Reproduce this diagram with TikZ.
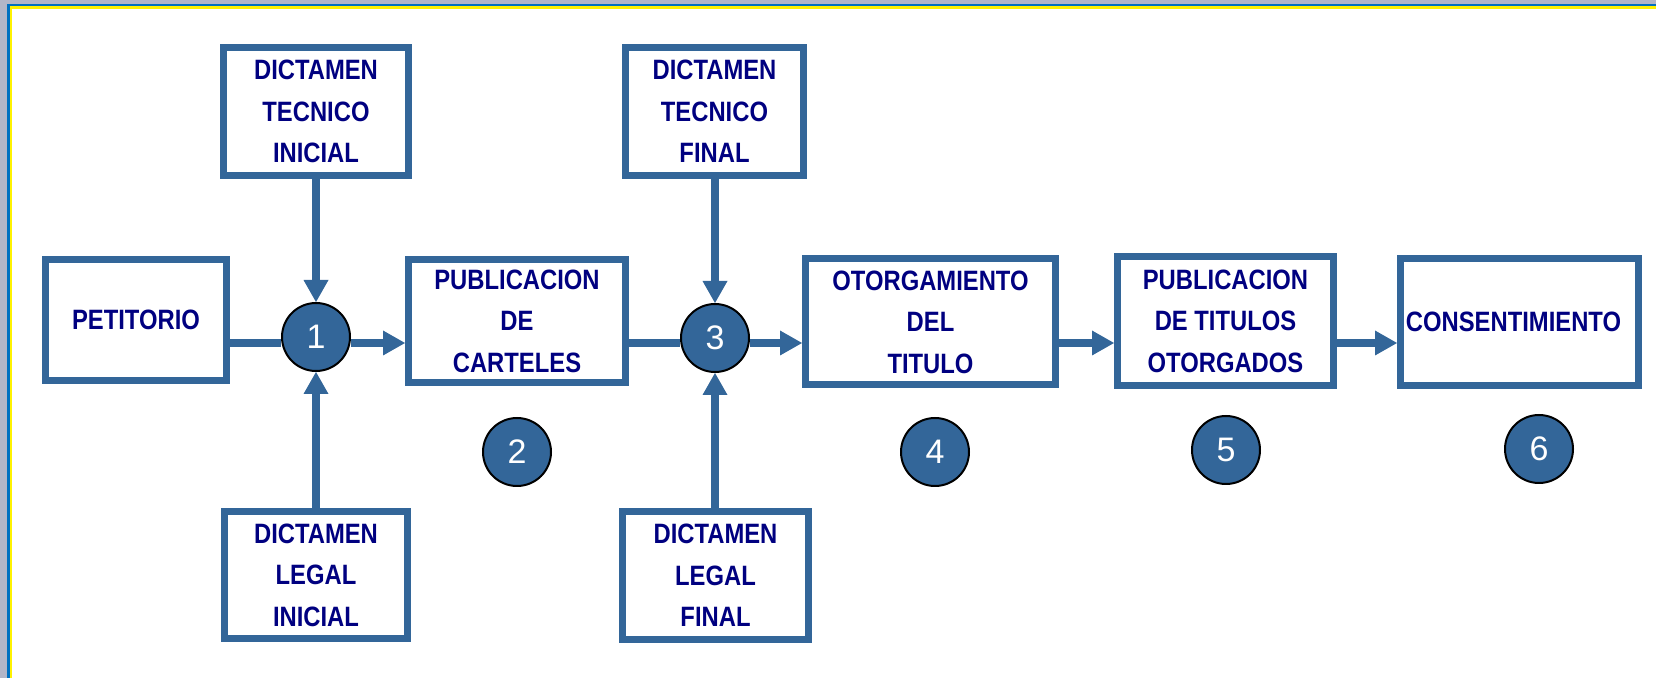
\documentclass[tikz,border=0pt]{standalone}
\usepackage{fontspec}
\usepackage{xcolor}
\usetikzlibrary{arrows.meta}
\newfontfamily\boxfont{Liberation Sans}[FakeStretch=0.85]
\newfontfamily\numfont{Liberation Sans}
\definecolor{stepblue}{RGB}{51,102,153}
\definecolor{textnavy}{RGB}{0,0,128}
\definecolor{framegray}{RGB}{178,182,200}
\definecolor{frameblue}{RGB}{0,112,192}

\begin{document}
\begin{tikzpicture}[x=0.5pt,y=-0.5pt,>={Triangle[length=11pt,width=12.5pt,line width=0pt]},
    step box/.style={rectangle,draw=stepblue,line width=3.5pt,fill=white,inner sep=0pt,align=center,text=textnavy,font=\boxfont\bfseries\fontsize{14}{20.8}\selectfont},
    num node/.style={circle,draw=black,line width=1pt,fill=stepblue,text=white,minimum size=34pt,inner sep=0pt,font=\numfont\fontsize{17}{20}\selectfont},
    flow line/.style={color=stepblue,draw,line width=3.8pt}]
                \useasboundingbox (0,0) rectangle (1656,678);

                % frame
                \fill[framegray] (0,0) rectangle (1656,678);
                \fill[frameblue] (7,4) rectangle (1656,678);
                \fill[yellow] (9.5,6) rectangle (1656,678);
                \fill[white] (12,9) rectangle (1656,678);

                \node[step box, minimum width=90.5pt, minimum height=60.5pt] (pet) at (136,320) {PETITORIO};
                \node[step box, minimum width=108.5pt, minimum height=61.5pt] (pub) at (517,321) {PUBLICACION\\DE\\CARTELES};
                \node[step box, minimum width=125pt, minimum height=63pt] (oto) at (930.5,322) {OTORGAMIENTO\\DEL\\TITULO};
                \node[step box, minimum width=108pt, minimum height=64.5pt] (pti) at (1225.5,321) {PUBLICACION\\DE TITULOS\\OTORGADOS};
                \node[step box, minimum width=119pt, minimum height=63.5pt] (con) at (1519.5,322) {\hspace*{-6pt}CONSENTIMIENTO};

                \node[step box, minimum width=92.5pt, minimum height=64pt] (dti) at (316,111.5) {DICTAMEN\\TECNICO\\INICIAL};
                \node[step box, minimum width=91.5pt, minimum height=63.5pt] (dli) at (316,575) {DICTAMEN\\LEGAL\\INICIAL};
                \node[step box, minimum width=89pt, minimum height=64pt] (dtf) at (714.5,111.5) {DICTAMEN\\TECNICO\\FINAL};
                \node[step box, minimum width=93pt, minimum height=64pt] (dlf) at (715.5,575.5) {DICTAMEN\\LEGAL\\FINAL};

                \node[num node] (c1) at (316,337) {1};
                \node[num node] (c3) at (715,338) {3};
                \node[num node] (c2) at (517,452) {2};
                \node[num node] (c4) at (935,452) {4};
                \node[num node] (c5) at (1226,450) {5};
                \node[num node] (c6) at (1539,449) {6};

                \coordinate (flow) at (0,343);

                \path[flow line]
                    (pet.east |- flow) edge (c1.west |- flow)
                    (c1.east |- flow) edge[->] (pub.west |- flow)
                    (pub.east |- flow) edge (c3.west |- flow)
                    (c3.east |- flow) edge[->] (oto.west |- flow)
                    (oto.east |- flow) edge[->] (pti.west |- flow)
                    (pti.east |- flow) edge[->] (con.west |- flow)
                    (dti.south -| c1) edge[->] (c1.north)
                    (dli.north -| c1) edge[->] (c1.south)
                    (dtf.south -| c3) edge[->] (c3.north)
                    (dlf.north -| c3) edge[->] (c3.south)
                ;
            \end{tikzpicture}
\end{document}
